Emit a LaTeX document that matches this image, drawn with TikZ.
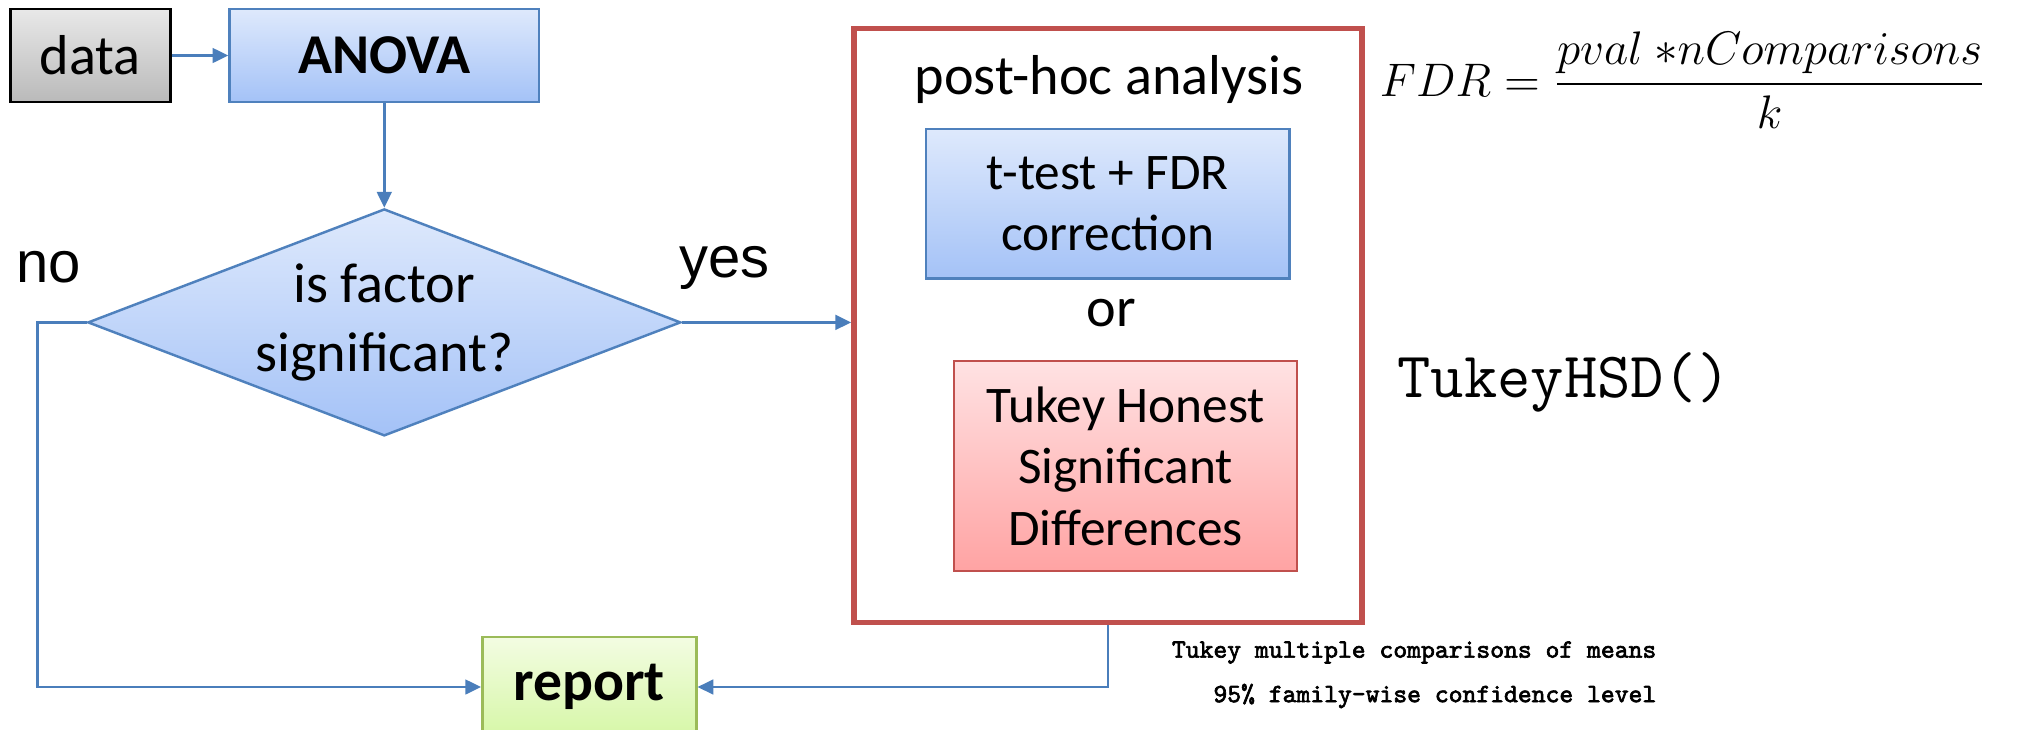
\documentclass[tikz,border=0pt]{standalone}
\usepackage{amsmath}
\usepackage{fontspec}
\setmainfont{Carlito}
\newfontfamily\arialfont{Liberation Sans}
\newfontfamily\boldmono[AutoFakeBold=2.5]{lmmono10-regular.otf}
\usepackage{tikz}
\usetikzlibrary{arrows.meta,shapes.geometric}

\definecolor{officeblue}{HTML}{4F81BD}
\definecolor{arrowblue}{HTML}{4A7EBB}
\definecolor{officered}{HTML}{C0504D}
\definecolor{officegreen}{HTML}{9BBB59}

\begin{document}
\begin{tikzpicture}[
		scale=1,
		every node/.style={align=center, font=\fontsize{16}{19.5}\selectfont},
		box/.style={rectangle, draw=officeblue, line width=0.7pt, inner sep=0pt},
		bluebox/.style={box, top color={rgb,255:red,222;green,233;blue,252}, bottom color={rgb,255:red,164;green,194;blue,247}},
		graybox/.style={box, draw=black, top color={rgb,255:red,232;green,232;blue,232}, bottom color={rgb,255:red,186;green,186;blue,186}},
		pinkbox/.style={box, draw=officered, top color={rgb,255:red,255;green,226;blue,227}, bottom color={rgb,255:red,255;green,163;blue,163}},
		greenbox/.style={box, draw=officegreen, top color={rgb,255:red,243;green,252;blue,226}, bottom color={rgb,255:red,214;green,247;blue,167}},
		small/.style={font=\fontsize{14.6}{17.5}\selectfont},
		caption/.style={anchor=east, inner sep=0pt, font=\fontsize{7.5}{9}\boldmono\bfseries},
		flow/.style={draw=arrowblue, line width=0.7pt, -{Triangle[length=4.5pt, width=4.2pt]}}
	]
  \useasboundingbox (0,0) rectangle (20.22,7.29);

  % main flow
  \node (data) [graybox, minimum width=1.60cm, minimum height=0.93cm] at (0.903cm, 6.735cm) {data};
  \node (anova) [bluebox, minimum width=3.095cm, minimum height=0.93cm, font=\fontsize{16}{19.5}\selectfont\bfseries] at (3.843cm, 6.735cm) {ANOVA};
  \node (test) [bluebox, diamond, aspect=2.61, minimum width=5.93cm, minimum height=2.27cm] at (3.843cm, 4.066cm) {is factor\\significant?};
  \node (report) [greenbox, minimum width=2.14cm, minimum height=1.0cm, font=\fontsize{16.4}{19.5}\selectfont\bfseries] at (5.893cm, 0.42cm) {report};

  \node (no) [font=\fontsize{16.5}{19}\arialfont] at (0.49cm, 4.62cm) {no};
  \node (yes) [font=\fontsize{16.5}{19}\arialfont] at (7.247cm, 4.61cm) {yes};

  % post-hoc block
  \node (posthoc) [rectangle, draw=officered, line width=1.6pt, minimum width=5.08cm, minimum height=5.94cm] at (11.08cm, 4.034cm) {};
  \node (title) at (11.09cm, 6.49cm) {post-hoc analysis};
  \node (ttest) [bluebox, small, minimum width=3.636cm, minimum height=1.496cm] at (11.077cm, 5.253cm) {t-test + FDR\\correction};
  \node (or) at (11.115cm, 4.157cm) {or};
  \node (tukey) [pinkbox, small, minimum width=3.43cm, minimum height=2.10cm] at (11.257cm, 2.628cm) {Tukey Honest\\Significant\\Differences};

  % side notes
  \node (fdr) [font=\fontsize{15}{18}\selectfont, transform shape, scale=0.93] at (16.83cm, 6.49cm) {$\displaystyle FDR=\frac{pval\ {\ast}nComparisons}{k}$};
  \node (hsd) [font=\fontsize{18.4}{21}\ttfamily] at (15.64cm, 3.47cm) {TukeyHSD()};
  \node (caption1) [caption] at (16.57cm, 0.765cm) {Tukey multiple comparisons of means};
  \node (caption2) [caption] at (16.57cm, 0.33cm) {95\% family-wise confidence level};

  \draw [flow] (data) -- (anova);
  \draw [flow] (anova) -- (test);
  \draw [flow] (test.east) -- (test.east -| posthoc.west);
  \draw [flow] (test.west) -- ++(-0.49,0) |- (report.west);
  \draw [flow] (posthoc.south) |- (report.east);
\end{tikzpicture}
\end{document}
